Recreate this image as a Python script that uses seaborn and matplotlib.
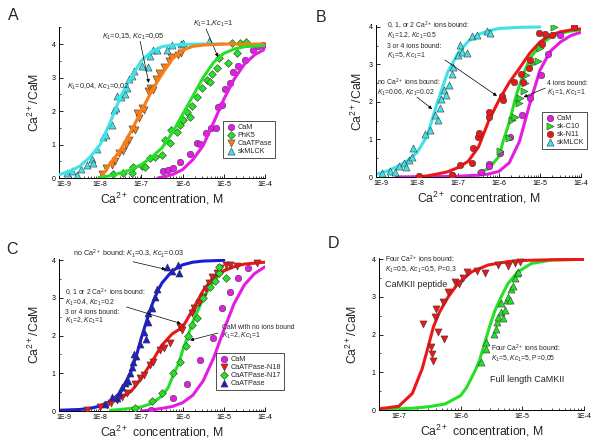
import numpy as np
import seaborn as sns
import matplotlib.pyplot as plt
from matplotlib.ticker import FixedLocator, LogLocator, MultipleLocator, NullFormatter
from matplotlib.transforms import ScaledTranslation

sns.set_style("ticks")
plt.rcParams["font.family"] = ["Liberation Sans", "DejaVu Sans"]
plt.rcParams["mathtext.fontset"] = "custom"
plt.rcParams["mathtext.rm"] = "Liberation Sans"
plt.rcParams["mathtext.it"] = "Liberation Sans:italic"
plt.rcParams["mathtext.bf"] = "Liberation Sans:bold"

# colours
MAG = "#E41DE4"
GRN = "#26E026"
ORG = "#FA7D16"
CYN = "#3FE2E8"
RED = "#EE1616"
BLU = "#1C1CD2"

# ---------------- data (x values are log10 of Ca2+ concentration, M) ----------------
# Panel A : fitted curves
a_cam_fit_x = [-6.6, -6.5, -6.25, -6.0, -5.75, -5.5, -5.25, -5.0, -4.75, -4.5, -4.25, -4.0]
a_cam_fit_y = [0.0, 0.03, 0.1, 0.25, 0.55, 0.97, 1.65, 2.35, 2.95, 3.4, 3.68, 3.85]
a_phk_fit_x = [-8.0, -7.75, -7.5, -7.25, -7.0, -6.75, -6.5, -6.25, -6.0, -5.75, -5.5, -5.25, -5.0, -4.75, -4.5, -4.0]
a_phk_fit_y = [0.02, 0.07, 0.15, 0.25, 0.4, 0.62, 0.9, 1.35, 1.9, 2.45, 3.0, 3.45, 3.72, 3.85, 3.92, 3.96]
a_atp_fit_x = [-8.0, -7.875, -7.75, -7.5, -7.25, -7.0, -6.75, -6.5, -6.25, -6.0, -5.75, -5.5, -5.0, -4.0]
a_atp_fit_y = [0.0, 0.2, 0.45, 0.85, 1.4, 2.0, 2.6, 3.1, 3.55, 3.82, 3.93, 3.97, 4.0, 4.0]
a_mlck_fit_x = [-9.0, -8.75, -8.5, -8.25, -8.0, -7.75, -7.5, -7.25, -7.0, -6.75, -6.5, -6.25, -6.0, -5.5, -5.0]
a_mlck_fit_y = [0.1, 0.2, 0.35, 0.62, 1.0, 1.68, 2.45, 3.0, 3.5, 3.78, 3.92, 3.97, 3.99, 4.0, 4.0]
# Panel A : measured points
a_cam_x = [-6.47, -6.35, -6.23, -6.07, -5.82, -5.66, -5.58, -5.42, -5.32, -5.18, -5.13, -5.05, -4.96, -4.85, -4.77, -4.65, -4.49, -4.28, -4.16, -4.04]
a_cam_y = [0.2, 0.25, 0.3, 0.48, 0.72, 1.04, 1.02, 1.34, 1.49, 1.49, 2.12, 2.17, 2.66, 2.84, 3.18, 3.33, 3.53, 3.83, 3.93, 3.96]
a_phk_x = [-7.7, -7.44, -7.24, -7.2, -6.99, -6.91, -6.79, -6.67, -6.51, -6.43, -6.31, -6.27, -6.14, -6.06, -5.98,
           -5.9, -5.82, -5.78, -5.66, -5.54, -5.41, -5.33, -5.29, -5.17, -5.11, -4.89, -4.81, -4.69, -4.61, -4.45]
a_phk_y = [0.12, 0.14, 0.15, 0.32, 0.36, 0.34, 0.59, 0.62, 0.69, 1.13, 1.04, 1.43, 1.38, 1.58, 1.73,
           1.98, 1.81, 2.15, 2.43, 2.68, 2.93, 2.88, 3.12, 3.29, 3.57, 3.42, 4.02, 3.72, 4.02, 4.05]
a_atp_x = [-7.95, -7.85, -7.72, -7.65, -7.55, -7.45, -7.38, -7.3, -7.22, -7.16, -7.1, -7.05, -6.99, -6.93, -6.85,
           -6.79, -6.72, -6.64, -6.58, -6.45, -6.34, -6.27, -6.12, -6.05]
a_atp_y = [0.12, 0.3, 0.38, 0.5, 0.75, 0.8, 1.0, 1.12, 1.46, 1.43, 1.95, 1.8, 2.08, 2.02, 2.6,
           2.68, 2.62, 2.95, 3.15, 3.3, 3.48, 3.62, 3.67, 3.72]
a_mlck_x = [-8.8, -8.68, -8.56, -8.46, -8.32, -8.21, -8.17, -8.08, -7.94, -7.85, -7.72, -7.66, -7.62, -7.59, -7.49,
            -7.4, -7.36, -7.3, -7.23, -7.18, -6.98, -6.84, -6.8, -6.71, -6.63, -6.39, -6.26, -6.04, -6.0, -5.35]
a_mlck_y = [0.15, 0.22, 0.1, 0.27, 0.4, 0.58, 0.45, 0.88, 1.21, 1.29, 1.58, 2.04, 2.09, 2.44, 2.42,
            2.51, 2.68, 2.96, 3.05, 3.2, 3.33, 3.31, 3.65, 3.81, 3.81, 3.83, 3.98, 4.0, 4.03, 4.08]

# Panel B : fitted curves
b_cam_fit_x = [-8.5, -7.5, -7.0, -6.5, -6.25, -6.0, -5.75, -5.5, -5.25, -5.0, -4.75, -4.5, -4.25, -4.0]
b_cam_fit_y = [0.0, 0.01, 0.02, 0.05, 0.08, 0.15, 0.38, 0.95, 1.95, 2.85, 3.35, 3.6, 3.77, 3.86]
b_c10_fit_x = [-6.5, -6.25, -6.0, -5.9, -5.75, -5.6, -5.5, -5.4, -5.25, -5.0, -4.75, -4.5, -4.25, -4.0]
b_c10_fit_y = [0.12, 0.22, 0.55, 0.95, 1.45, 2.1, 2.45, 2.75, 3.15, 3.52, 3.72, 3.83, 3.89, 3.92]
b_n11_fit_x = [-8.0, -7.75, -7.5, -7.25, -7.0, -6.75, -6.5, -6.25, -6.0, -5.75, -5.5, -5.25, -5.0, -4.75, -4.5, -4.25, -4.0]
b_n11_fit_y = [0.0, 0.03, 0.08, 0.14, 0.25, 0.42, 0.8, 1.5, 2.05, 2.52, 2.9, 3.3, 3.6, 3.78, 3.87, 3.92, 3.95]
b_mlck_fit_x = [-9.0, -8.75, -8.5, -8.25, -8.0, -7.75, -7.5, -7.25, -7.0, -6.75, -6.5, -6.25, -6.0, -5.5, -5.0]
b_mlck_fit_y = [0.07, 0.15, 0.27, 0.42, 0.65, 1.1, 2.0, 2.8, 3.3, 3.62, 3.8, 3.9, 3.96, 3.99, 4.0]
# Panel B : measured points
b_cam_x = [-7.15, -6.43, -6.24, -6.24, -5.98, -5.72, -5.44, -5.24, -4.98, -4.8, -4.52, -4.18]
b_cam_y = [0.04, 0.14, 0.35, 0.28, 0.63, 1.06, 1.65, 2.1, 2.72, 3.27, 3.79, 4.03]
b_c10_x = [-5.97, -5.75, -5.68, -5.62, -5.52, -5.48, -5.38, -5.36, -5.34, -5.18, -5.06, -5.0, -4.83, -4.67]
b_c10_y = [0.7, 1.03, 1.52, 1.61, 1.98, 2.1, 2.29, 2.5, 2.72, 3.03, 3.08, 3.43, 3.79, 3.99]
b_n11_x = [-7.96, -7.15, -6.94, -6.66, -6.64, -6.51, -6.48, -6.25, -6.24, -5.93, -5.9, -5.64, -5.46, -5.41,
           -5.28, -5.24, -5.03, -4.95, -4.87, -4.71, -4.18]
b_n11_y = [0.03, 0.04, 0.32, 0.36, 0.76, 1.06, 1.17, 1.61, 1.74, 2.16, 2.05, 2.54, 2.75, 2.54,
           2.9, 3.12, 3.83, 3.55, 3.81, 3.79, 4.01]
b_mlck_x = [-8.85, -8.65, -8.53, -8.45, -8.32, -8.26, -8.2, -8.12, -8.1, -7.8, -7.68, -7.56, -7.5, -7.45,
            -7.42, -7.35, -7.3, -7.23, -7.15, -7.11, -7.0, -6.94, -6.9, -6.78, -6.66, -6.54, -6.29, -6.21]
b_mlck_y = [0.1, 0.17, 0.14, 0.29, 0.38, 0.26, 0.45, 0.52, 0.78, 1.15, 1.25, 1.65, 1.52, 1.83,
            2.08, 2.32, 2.19, 2.45, 2.75, 2.94, 3.25, 3.52, 3.34, 3.3, 3.77, 3.79, 3.89, 3.85]

# Panel C : fitted curves
c_cam_fit_x = [-7.0, -6.75, -6.5, -6.25, -6.0, -5.75, -5.5, -5.25, -5.0, -4.75, -4.5, -4.25, -4.0]
c_cam_fit_y = [0.0, 0.03, 0.07, 0.12, 0.22, 0.42, 0.8, 1.4, 2.15, 2.85, 3.35, 3.65, 3.83]
c_n18_fit_x = [-8.05, -7.75, -7.5, -7.25, -7.0, -6.75, -6.5, -6.25, -6.0, -5.75, -5.5, -5.25, -5.0, -4.75, -4.5, -4.0]
c_n18_fit_y = [0.12, 0.25, 0.35, 0.52, 0.87, 1.3, 1.75, 2.05, 2.22, 2.7, 3.2, 3.55, 3.72, 3.83, 3.9, 3.95]
c_n17_fit_x = [-7.75, -7.5, -7.25, -7.0, -6.75, -6.5, -6.35, -6.23, -6.1, -6.0, -5.9, -5.8, -5.7, -5.6, -5.5,
               -5.35, -5.2, -5.05, -4.95]
c_n17_fit_y = [0.02, 0.04, 0.07, 0.11, 0.2, 0.4, 0.62, 0.95, 1.25, 1.6, 1.9, 2.22, 2.5, 2.75, 2.98,
               3.28, 3.5, 3.68, 3.76]
c_atp_fit_x = [-9.0, -8.5, -8.25, -8.0, -7.75, -7.5, -7.25, -7.1, -7.0, -6.9, -6.75, -6.6, -6.5, -6.25, -6.0,
               -5.75, -5.5, -5.0]
c_atp_fit_y = [0.02, 0.04, 0.07, 0.13, 0.25, 0.5, 1.05, 1.55, 1.95, 2.3, 2.8, 3.2, 3.4, 3.72, 3.88,
               3.95, 3.98, 4.0]
# Panel C : measured points
c_cam_x = [-6.76, -6.23, -5.9, -5.58, -5.27, -5.05, -4.85, -4.65, -4.41]
c_cam_y = [0.03, 0.34, 0.72, 1.35, 1.93, 2.73, 3.17, 3.52, 3.79]
c_n18_x = [-8.33, -8.0, -7.84, -7.74, -7.6, -7.48, -7.36, -7.16, -7.03, -6.93, -6.79, -6.71, -6.55, -6.44, -6.31,
           -6.06, -6.02, -5.78, -5.72, -5.6, -5.5, -5.44, -5.36, -5.28, -5.17, -5.09, -4.95, -4.85, -4.69, -4.2]
c_n18_y = [0.03, 0.11, 0.16, 0.2, 0.29, 0.38, 0.47, 0.72, 0.87, 0.96, 1.22, 1.31, 1.62, 1.66, 1.8,
           2.24, 2.15, 2.59, 2.73, 2.86, 3.03, 3.23, 3.39, 3.55, 3.66, 3.79, 3.88, 3.88, 3.85, 3.94]
c_n17_x = [-7.16, -6.75, -6.51, -6.23, -6.06, -5.92, -5.86, -5.78, -5.64, -5.5, -5.33, -5.21, -5.11, -5.11, -4.95]
c_n17_y = [0.09, 0.27, 0.49, 1.0, 1.31, 1.73, 1.99, 2.28, 2.48, 3.01, 3.3, 3.45, 3.65, 3.81, 3.54]
c_atp_x = [-7.88, -7.72, -7.6, -7.54, -7.48, -7.4, -7.33, -7.28, -7.24, -7.21, -7.18, -7.13, -7.03, -6.93, -6.9,
           -6.85, -6.83, -6.75, -6.67, -6.61, -6.39, -6.26, -6.12, -6.09]
c_atp_y = [0.19, 0.38, 0.34, 0.49, 0.65, 0.75, 0.8, 1.02, 1.18, 1.31, 1.51, 1.46, 1.78, 2.11, 1.9,
           2.37, 2.59, 2.73, 3.03, 3.23, 3.81, 3.72, 3.88, 3.66]

# Panel D : fitted curves
d_pep_fit_x = [-7.32, -7.0, -6.78, -6.62, -6.52, -6.44, -6.34, -6.2, -6.04, -5.82, -5.55, -5.23, -5.0, -4.5, -4.0]
d_pep_fit_y = [0.03, 0.1, 0.44, 1.1, 1.7, 2.2, 2.6, 3.0, 3.36, 3.67, 3.85, 3.94, 3.97, 3.99, 4.0]
d_full_fit_x = [-7.32, -7.0, -6.75, -6.5, -6.25, -6.0, -5.9, -5.77, -5.69, -5.61, -5.53, -5.44, -5.34, -5.23,
                -5.07, -4.85, -4.53, -4.0]
d_full_fit_y = [0.02, 0.03, 0.05, 0.09, 0.16, 0.38, 0.6, 1.02, 1.33, 1.77, 2.21, 2.65, 3.01, 3.36,
                3.67, 3.89, 3.98, 4.0]
# Panel D : measured points
d_pep_x = [-6.61, -6.47, -6.46, -6.45, -6.36, -6.27, -6.42, -6.39, -6.28, -6.21, -6.09, -6.02, -5.96, -5.9,
           -5.74, -5.61, -5.39, -5.23, -5.11, -5.03]
d_pep_y = [2.29, 1.67, 1.49, 1.29, 2.07, 1.88, 2.47, 2.67, 2.87, 3.14, 3.41, 3.35, 3.5, 3.67,
           3.7, 3.63, 3.85, 3.82, 3.89, 3.92]
d_full_x = [-5.67, -5.59, -5.59, -5.46, -5.43, -5.41, -5.39, -5.35, -5.35, -5.31, -5.28, -5.25, -5.23, -5.2,
            -5.18, -5.15, -5.12, -5.09, -5.07]
d_full_y = [1.28, 1.61, 1.81, 2.02, 2.16, 2.34, 2.48, 2.6, 2.85, 2.43, 2.65, 2.92, 3.01, 2.92,
            3.2, 3.29, 3.5, 3.63, 3.67]

x_ticks_full = [-9, -8, -7, -6, -5, -4]
x_labels_full = ["1E-9", "1E-8", "1E-7", "1E-6", "1E-5", "1E-4"]
x_ticks_d = [-7, -6, -5, -4]
x_labels_d = ["1E-7", "1E-6", "1E-5", "1E-4"]

# ---------------- figure ----------------
W, H = 600, 444
fig = plt.figure(figsize=(6.0, 4.44), dpi=100)


def px_axes(left, top, right, bottom):
    return fig.add_axes([left / W, 1 - bottom / H, (right - left) / W, (bottom - top) / H])


def fit_line(ax, lx, ly, color, z):
    sns.lineplot(x=10.0 ** np.asarray(lx), y=np.asarray(ly), color=color, linewidth=2.2,
                 estimator=None, sort=False, ax=ax, zorder=z)


def points(ax, lx, ly, color, marker, label=None, z=3, s=26):
    sns.scatterplot(x=10.0 ** np.asarray(lx), y=np.asarray(ly), color=color, marker=marker,
                    s=s, edgecolor="#3a3a3a", linewidth=0.4, label=label, ax=ax, zorder=z)


def style_axes(ax, xlo, ytop, ticks, labels, ylab_off, h_px):
    ax.set_xscale("log")
    ax.set_xlim(10.0 ** xlo, 1e-4)
    ax.set_ylim(0, ytop)
    ax.xaxis.set_major_locator(FixedLocator(10.0 ** np.asarray(ticks, dtype=float)))
    ax.set_xticklabels(labels)
    ax.xaxis.set_minor_locator(LogLocator(base=10, subs=np.arange(2, 10) * 1.0, numticks=30))
    ax.xaxis.set_minor_formatter(NullFormatter())
    ax.yaxis.set_major_locator(MultipleLocator(1))
    ax.yaxis.set_minor_locator(MultipleLocator(0.5))
    ax.tick_params(which="both", direction="in", labelsize=5.0, colors="black")
    ax.tick_params(axis="x", pad=2.2)
    ax.tick_params(axis="y", pad=2.6)
    ax.tick_params(which="major", length=2.8, width=0.6)
    ax.tick_params(which="minor", length=1.5, width=0.5)
    sns.despine(ax=ax)
    for sp in ("left", "bottom"):
        ax.spines[sp].set_linewidth(0.7)
        ax.spines[sp].set_color("black")
    ax.set_xlabel(r"Ca$^{2+}$ concentration, M", fontsize=8.8)
    ax.set_ylabel(r"Ca$^{2+}$/CaM", fontsize=8.8)
    ax.xaxis.set_label_coords(0.5, -13.0 / h_px)
    ax.yaxis.set_label_coords(-ylab_off / ax.get_position().width / W, 0.5)
    if ticks[0] == xlo:
        # first x label sits a little right of its tick, as in the original
        first = ax.get_xticklabels()[0]
        first.set_transform(first.get_transform() + ScaledTranslation(3.5 / 72, 0, fig.dpi_scale_trans))


def legend(ax, left, top):
    leg = ax.legend(loc="upper left", bbox_to_anchor=(left / W, 1 - top / H), bbox_transform=fig.transFigure,
                    frameon=True, fancybox=False, fontsize=5.2, handletextpad=0.3, labelspacing=0.12,
                    borderpad=0.4, borderaxespad=0, handlelength=1.3)
    leg.get_frame().set_edgecolor("black")
    leg.get_frame().set_linewidth(0.6)
    leg.get_frame().set_facecolor("white")


def note(ax, lx, y, text, size=5.0, va="center"):
    ax.text(10.0 ** lx, y, text, fontsize=size, ha="left", va=va, clip_on=False)


def stack(ax, lx, ys, lines, size=4.9):
    # lines of an annotation block, placed by baseline
    for y, t in zip(ys, lines):
        note(ax, lx, y, t, size, va="baseline")


def arrow(ax, tail, head):
    ax.annotate("", xy=(10.0 ** head[0], head[1]), xytext=(10.0 ** tail[0], tail[1]),
                arrowprops=dict(arrowstyle="-|>", color="black", lw=0.5, mutation_scale=5,
                                shrinkA=0, shrinkB=0))


# ---- Panel A ----
axA = px_axes(59, 27.3, 265, 178)
axA.set_xscale("log")
points(axA, a_cam_x, a_cam_y, MAG, "o", "CaM", z=2, s=22)
points(axA, a_phk_x, a_phk_y, GRN, "D", "PhK5", z=2, s=16)
points(axA, a_atp_x, a_atp_y, ORG, "v", "CaATPase", z=2)
points(axA, a_mlck_x, a_mlck_y, CYN, "^", "skMLCK", z=2)
fit_line(axA, a_mlck_fit_x, a_mlck_fit_y, CYN, 3)
fit_line(axA, a_atp_fit_x, a_atp_fit_y, ORG, 3.1)
fit_line(axA, a_phk_fit_x, a_phk_fit_y, GRN, 3.2)
fit_line(axA, a_cam_fit_x, a_cam_fit_y, MAG, 3.3)
style_axes(axA, -9, 4.5, x_ticks_full, x_labels_full, 17, 150.7)
legend(axA, 223, 121)
note(axA, -8.81, 2.72, r"$K_1$=0,04, $Kc_1$=0,02", 5.3)
note(axA, -7.96, 4.2, r"$K_1$=0,15, $Kc_1$=0,05", 5.3)
arrow(axA, (-7.03, 4.08), (-6.82, 2.84))
note(axA, -5.75, 4.6, r"$K_1$=1,$Kc_1$=1", 5.3)
arrow(axA, (-5.43, 4.45), (-5.14, 3.61))

# ---- Panel B ----
axB = px_axes(376, 25.1, 581, 177)
axB.set_xscale("log")
fit_line(axB, b_cam_fit_x, b_cam_fit_y, MAG, 2)
fit_line(axB, b_c10_fit_x, b_c10_fit_y, GRN, 2.1)
fit_line(axB, b_n11_fit_x, b_n11_fit_y, RED, 2.2)
fit_line(axB, b_mlck_fit_x, b_mlck_fit_y, CYN, 2.3)
points(axB, b_cam_x, b_cam_y, MAG, "o", "CaM", s=22)
points(axB, b_c10_x, b_c10_y, GRN, ">", "sk-C10")
points(axB, b_n11_x, b_n11_y, RED, "o", "sk-N11", s=22)
points(axB, b_mlck_x, b_mlck_y, CYN, "^", "skMLCK")
style_axes(axB, -9, 4.05, x_ticks_full, x_labels_full, 11, 151.9)
legend(axB, 542, 112)
stack(axB, -8.73, [3.95, 3.70, 3.43, 3.18],
      [r"0, 1, or 2 Ca$^{2+}$ ions bound:", r"$K_1$=1.2, $Kc_1$=0.5", "3 or 4 ions bound:", r"$K_1$=5, $Kc_1$=1"])
arrow(axB, (-7.32, 3.12), (-6.05, 2.16))
stack(axB, -8.97, [2.44, 2.19], [r"no Ca$^{2+}$ ions bound:", r"$K_1$=0.06, $Kc_1$=0.02"])
arrow(axB, (-8.0, 2.13), (-7.63, 1.81))
stack(axB, -4.83, [2.44, 2.19], ["4 ions bound:", r"$K_1$=1, $Kc_1$=1"])
arrow(axB, (-4.87, 2.37), (-5.4, 2.13))

# ---- Panel C ----
axC = px_axes(59, 258.8, 265, 411)
axC.set_xscale("log")
fit_line(axC, c_cam_fit_x, c_cam_fit_y, MAG, 2)
fit_line(axC, c_n17_fit_x, c_n17_fit_y, GRN, 2.1)
fit_line(axC, c_n18_fit_x, c_n18_fit_y, RED, 2.2)
fit_line(axC, c_atp_fit_x, c_atp_fit_y, BLU, 2.3)
points(axC, c_cam_x, c_cam_y, MAG, "o", "CaM", s=22)
points(axC, c_n18_x, c_n18_y, RED, "v", "CaATPase-N18")
points(axC, c_n17_x, c_n17_y, GRN, "D", "CaATPase-N17", s=16)
points(axC, c_atp_x, c_atp_y, BLU, "^", "CaATPase")
style_axes(axC, -9, 4.04, x_ticks_full, x_labels_full, 17, 152.2)
legend(axC, 216, 353)
note(axC, -8.66, 4.17, r"no Ca$^{2+}$ bound: $K_1$=0.3, $Kc_1$=0.03", 5.2)
arrow(axC, (-7.2, 3.96), (-6.41, 3.76))
stack(axC, -8.85, [3.07, 2.82, 2.58, 2.33],
      [r"0, 1 or 2 Ca$^{2+}$ ions bound:", r"$K_1$=0.4, $Kc_1$=0.2", "3 or 4 ions bound:", r"$K_1$=2, $Kc_1$=1"])
arrow(axC, (-7.36, 2.76), (-6.04, 2.32))
stack(axC, -5.05, [2.18, 1.93], ["CaM with no ions bound", r"$K_1$=2, $Kc_1$=1"])
arrow(axC, (-5.14, 2.07), (-5.82, 1.88))

# ---- Panel D ----
axD = px_axes(379, 258.2, 584, 410)
axD.set_xscale("log")
fit_line(axD, d_full_fit_x, d_full_fit_y, GRN, 2)
fit_line(axD, d_pep_fit_x, d_pep_fit_y, RED, 2.1)
points(axD, d_pep_x, d_pep_y, RED, "v")
points(axD, d_full_x, d_full_y, GRN, "^")
style_axes(axD, -7.32, 4.03, x_ticks_d, x_labels_d, 19, 151.8)
if axD.get_legend() is not None:
    axD.get_legend().remove()
stack(axD, -7.22, [3.92, 3.67], [r"Four Ca$^{2+}$ ions bound:", r"$K_1$=0.5, $Kc_1$=0,5, P=0,3"])
note(axD, -7.22, 3.32, "CaMKII peptide", 6.5)
stack(axD, -5.51, [1.55, 1.31], [r"Four Ca$^{2+}$ ions bound:", r"$K_1$=5, $Kc_1$=5, P=0,05"])
note(axD, -5.53, 0.81, "Full length CaMKII", 6.5)

# panel letters
for lab, (px, py) in zip("ABCD", [(13, 15), (321, 18), (12, 249), (333, 243)]):
    fig.text(px / W, 1 - py / H, lab, fontsize=11.5, ha="center", va="center")

fig.savefig("out.png", dpi=100)
